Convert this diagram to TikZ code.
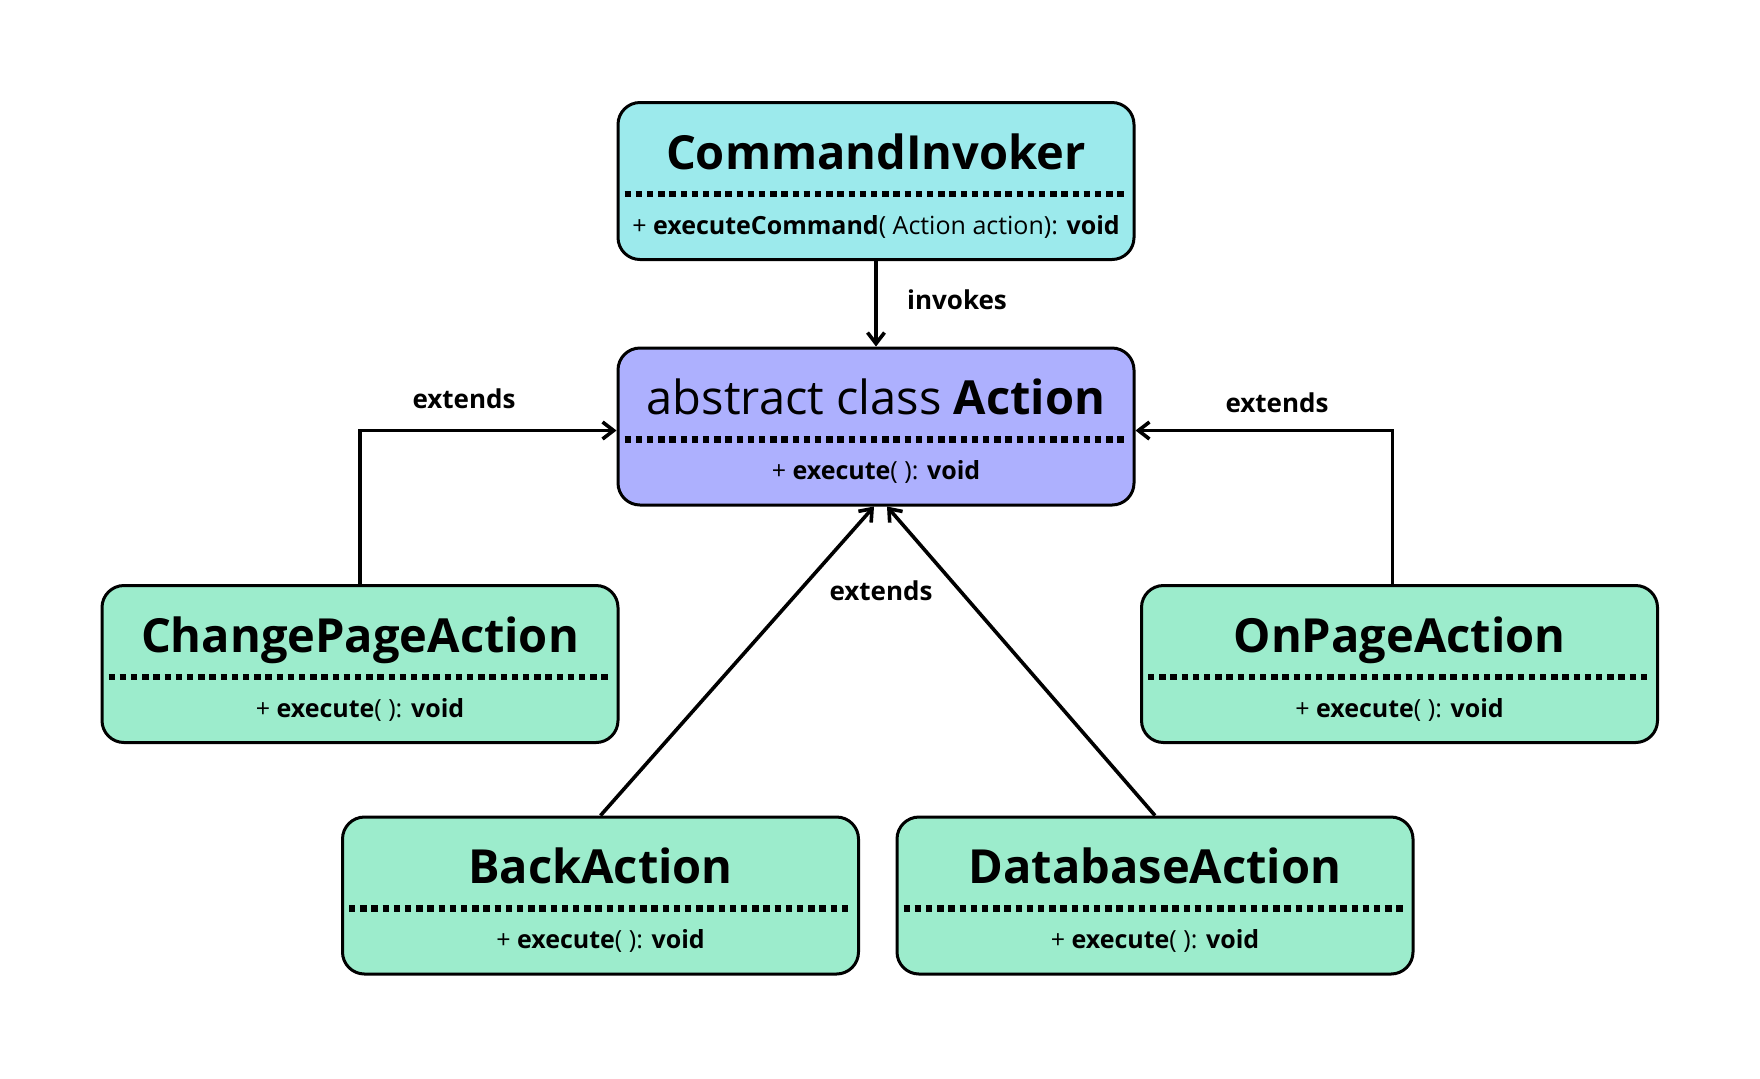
\documentclass[tikz,border=0pt]{standalone}
\usepackage{fontspec}
\setmainfont{Open Sans}
\usetikzlibrary{arrows.meta,calc}

\definecolor{invcyan}{HTML}{9CEAEC}
\definecolor{actpurple}{HTML}{ADB0FE}
\definecolor{subgreen}{HTML}{9CECCC}

\tikzset{
  classbox/.style={draw=black,line width=1.5pt,rounded corners=11pt,minimum width=258pt,minimum height=78.5pt,inner sep=0pt},
  classtitle/.style={anchor=base,inner sep=0pt,font=\fontsize{23.5}{28}\selectfont\bfseries},
  classmethod/.style={anchor=base,inner sep=0pt,font=\fontsize{12.5}{15}\selectfont},
  sepline/.style={line width=3.2pt,dash pattern=on 3.2pt off 2.4pt},
  arrowlabel/.style={font=\fontsize{13}{15}\selectfont\bfseries},
  link/.style={line width=1.8pt,-{Straight Barb[length=5.5pt,width=8.5pt]}}
}

\begin{document}
\begin{tikzpicture}[x=0.5pt,y=-0.5pt]
\useasboundingbox (0,0) rectangle (1760,1078);

\begin{scope}[every node/.style={classbox}]
    \node[fill=invcyan] (inv) at (876,181) {};
    \node[fill=actpurple] (act) at (876,426.5) {};
    \node[fill=subgreen] (cpa) at (360,664) {};
    \node[fill=subgreen] (opa) at (1399.5,664) {};
    \node[fill=subgreen] (back) at (600.5,895.5) {};
    \node[fill=subgreen] (db) at (1155,895.5) {};
\end{scope}

% titles, dotted separators, methods
\node[classtitle] (invtitle) at ($(inv.north)+(0,68)$) {CommandInvoker};
\draw[sepline] ($(inv.north west)+(8,93)$) -- ($(inv.north east)+(-8,93)$);
\node[classmethod] (invmeth) at ($(inv.north)+(0,133)$) {+ \textbf{executeCommand}( Action action): \textbf{void}};

\node[classtitle] (acttitle) at ($(act.north)+(0,68)$) {\mdseries abstract class \bfseries Action};
\draw[sepline] ($(act.north west)+(8,93)$) -- ($(act.north east)+(-8,93)$);
\node[classmethod] (actmeth) at ($(act.north)+(0,133)$) {+ \textbf{execute}( ): \textbf{void}};

\node[classtitle] (cpatitle) at ($(cpa.north)+(0,68)$) {ChangePageAction};
\draw[sepline] ($(cpa.north west)+(8,93)$) -- ($(cpa.north east)+(-8,93)$);
\node[classmethod] (cpameth) at ($(cpa.north)+(0,133)$) {+ \textbf{execute}( ): \textbf{void}};

\node[classtitle] (opatitle) at ($(opa.north)+(0,68)$) {OnPageAction};
\draw[sepline] ($(opa.north west)+(8,93)$) -- ($(opa.north east)+(-8,93)$);
\node[classmethod] (opameth) at ($(opa.north)+(0,133)$) {+ \textbf{execute}( ): \textbf{void}};

\node[classtitle] (backtitle) at ($(back.north)+(0,68)$) {BackAction};
\draw[sepline] ($(back.north west)+(8,93)$) -- ($(back.north east)+(-8,93)$);
\node[classmethod] (backmeth) at ($(back.north)+(0,133)$) {+ \textbf{execute}( ): \textbf{void}};

\node[classtitle] (dbtitle) at ($(db.north)+(0,68)$) {DatabaseAction};
\draw[sepline] ($(db.north west)+(8,93)$) -- ($(db.north east)+(-8,93)$);
\node[classmethod] (dbmeth) at ($(db.north)+(0,133)$) {+ \textbf{execute}( ): \textbf{void}};

\begin{scope}[every node/.style={arrowlabel}]
    \draw[link] (inv.south) -- (act.north);
    \draw[link] (cpa.north) |- ([yshift=-2pt]act.west);
    \draw[link] ([xshift=-3.5pt]opa.north) |- ([yshift=-2pt]act.east);
    \draw[link] (back.north) -- ([xshift=-1pt]act.south);
    \draw[link] (db.north) -- ([xshift=5.5pt]act.south);
    \node (lblinv) at (957,300) {invokes};
    \node (lblcpa) at (464,399) {extends};
    \node (lblopa) at (1277,403) {extends};
    \node (lblmid) at (881,591) {extends};
\end{scope}
\end{tikzpicture}
\end{document}
